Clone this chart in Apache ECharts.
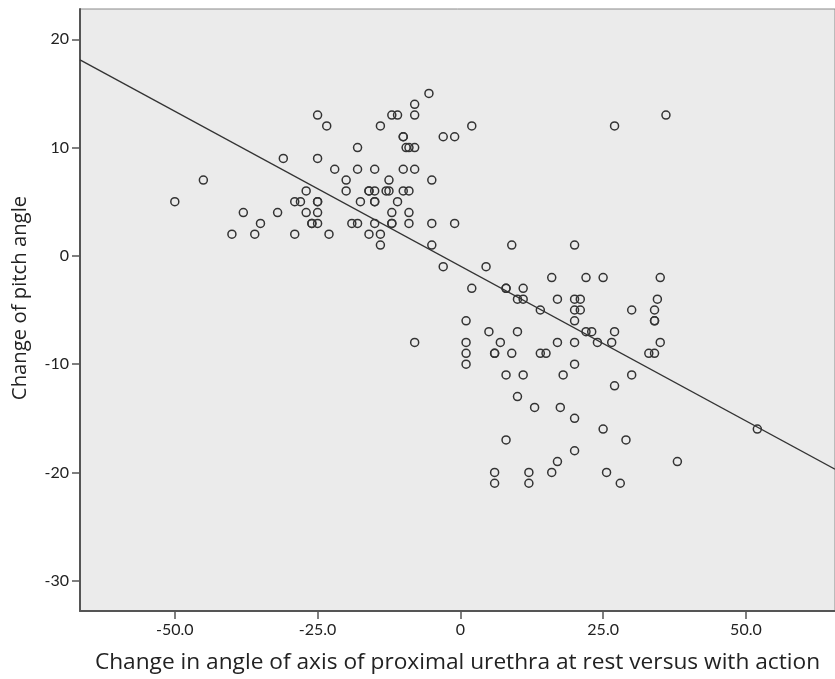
<!DOCTYPE html>
<html>
<head>
<meta charset="utf-8">
<script src="https://cdn.jsdelivr.net/npm/echarts@6/dist/echarts.min.js"></script>
<style>html,body{margin:0;padding:0;background:#fff;}#c{width:835px;height:679px;}</style>
</head>
<body>
<div id="c"></div>
<script>
// Change in angle of axis of proximal urethra (x) vs change of pitch angle (y)
const xValues = [
  -50,-45,-40,-38,-36,-35,-32,-31,-29,-29,-28,-27,-27,-26,-26,-25,-25,-25,-25,-25,-25,-23.4,-23,-22,
  -20,-20,-19,-18,-18,-18,-17.5,-16,-16,-16,-15,-15,-15,-15,-15,-14,-14,-14,-13,-12.5,-12.5,-12,-11,
  -12,-12,-12,-11,-10,-10,-10,-10,-9.5,-9,-9,-9,-9,-8,-8,-8,-8,-8,-5.5,-5,-5,-5,-3,-3,-1,-1,2,4.5,
  1,1,1,1,2,5,6,6,6,6,7,8,8,8,8,9,9,10,10,10,11,11,11,12,12,13,14,14,15,16,16,17,17,17,17.5,18,
  20,20,20,20,20,20,20,20,21,21,22,22,23,24,25,25,25.6,26.5,27,27,27,28,29,30,30,33,34,34,34,34,34.5,
  35,35,36,38,52
];
const yValues = [
  5,7,2,4,2,3,4,9,5,2,5,6,4,3,3,3,13,9,5,5,4,12,2,8,
  7,6,3,3,10,8,5,6,6,2,8,6,5,5,3,12,2,1,6,7,6,13,13,
  4,3,3,5,11,11,8,6,10,10,6,4,3,10,14,13,8,-8,15,7,3,1,11,-1,11,3,12,-1,
  -6,-8,-9,-10,-3,-7,-9,-9,-20,-21,-8,-3,-3,-11,-17,1,-9,-4,-7,-13,-3,-4,-11,-20,-21,-14,-5,-9,-9,-2,-20,-4,-8,-19,-14,-11,
  1,-4,-5,-6,-8,-10,-15,-18,-4,-5,-2,-7,-7,-8,-2,-16,-20,-8,-7,-12,12,-21,-17,-5,-11,-9,-9,-5,-6,-6,-4,
  -2,-8,13,-19,-16
];
const fitIntercept = -0.95;
const fitSlope = -0.286;
const xTicks = [-50, -25, 0, 25, 50];
const yTicks = [-30, -20, -10, 0, 10, 20];
const xMin = -66.6, xMax = 65.6;
const yMin = -32.8, yMax = 22.8;
const xTitle = 'Change in angle of axis of proximal urethra at rest versus with action';
const yTitle = 'Change of pitch angle';

const points = xValues.map((x, i) => [x, yValues[i]]);
const fitLine = [xMin, xMax].map(x => [x, fitIntercept + fitSlope * x]);

const chart = echarts.init(document.getElementById('c'), null, {renderer: 'canvas'});
const labelFont = {color: '#222', fontSize: 16, fontFamily: 'Lato, "Open Sans", sans-serif'};
chart.setOption({
  animation: false,
  backgroundColor: '#ffffff',
  grid: {left: 80, right: -1, top: 9, bottom: 67, show: true, backgroundColor: '#ebebeb',
         borderColor: '#8a8a8a', borderWidth: 1},
  xAxis: {
    type: 'value', min: xMin, max: xMax,
    name: xTitle, nameLocation: 'middle', nameGap: 40,
    nameTextStyle: {color: '#222', fontSize: 22.7, fontFamily: '"Open Sans", Lato, sans-serif'},
    axisLine: {show: true, onZero: false, lineStyle: {color: '#555', width: 2}},
    axisTick: {show: true, length: 8, customValues: xTicks, lineStyle: {color: '#555', width: 1.5}},
    axisLabel: Object.assign({customValues: xTicks, margin: 11,
      formatter: v => v === 0 ? '0' : v.toFixed(1)}, labelFont),
    splitLine: {show: false}
  },
  yAxis: {
    type: 'value', min: yMin, max: yMax,
    name: yTitle, nameLocation: 'middle', nameGap: 50, nameRotate: 90,
    nameTextStyle: {color: '#222', fontSize: 20.3, fontFamily: '"Open Sans", Lato, sans-serif',
                    padding: [0, 0, 0, 24]},
    axisLine: {show: true, onZero: false, lineStyle: {color: '#555', width: 2}},
    axisTick: {show: true, length: 8, customValues: yTicks, lineStyle: {color: '#555', width: 1.5}},
    axisLabel: Object.assign({customValues: yTicks, margin: 11}, labelFont),
    splitLine: {show: false}
  },
  series: [
    {type: 'scatter', data: points, symbol: 'circle', symbolSize: 8,
     itemStyle: {color: 'rgba(0,0,0,0)', borderColor: '#333', borderWidth: 1.5, opacity: 1}, z: 3},
    {type: 'line', data: fitLine, showSymbol: false, symbol: 'none',
     lineStyle: {color: '#333', width: 1.3}, z: 2}
  ]
});
</script>
</body>
</html>
